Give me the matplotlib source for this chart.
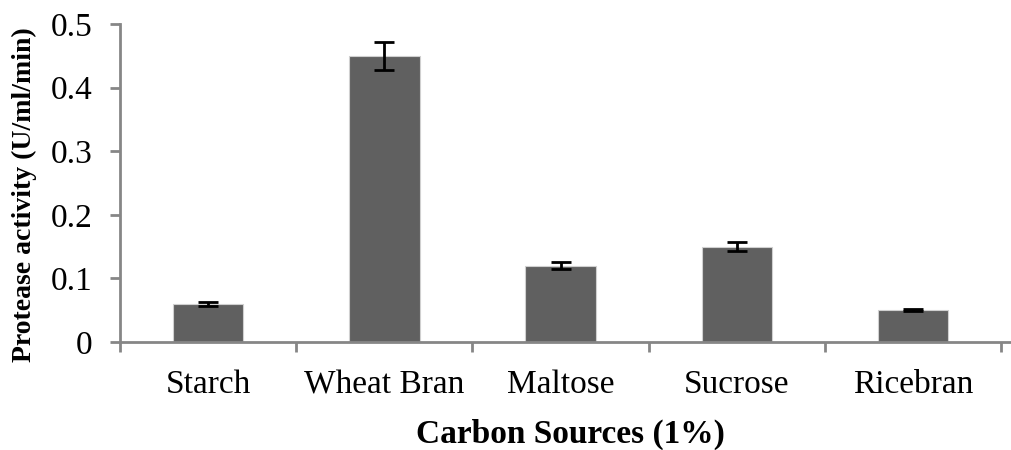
import numpy as np
import matplotlib.pyplot as plt

categories = ['Starch', 'Wheat Bran', 'Maltose', 'Sucrose', 'Ricebran']
activity = [0.06, 0.45, 0.12, 0.15, 0.05]
errors = [0.003, 0.022, 0.006, 0.007, 0.002]


def main():
    plt.rcParams['font.family'] = ['Liberation Serif', 'DejaVu Serif']

    fig = plt.figure(figsize=(10.11, 4.5), dpi=100)
    ax = fig.add_axes([120 / 1011, 108 / 450, 890 / 1011, 318 / 450])

    x = np.arange(len(categories))
    ax.bar(x, activity, width=0.4, color='#606060', edgecolor='#d0d0d0',
           linewidth=0.8, zorder=2)
    ax.errorbar(x, activity, yerr=errors, fmt='none', ecolor='black',
                elinewidth=2, capsize=7, capthick=2, zorder=3)

    ax.set_xlim(-0.5, len(categories) - 0.45)
    ax.set_ylim(0, 0.5)
    ax.set_yticks([0, 0.1, 0.2, 0.3, 0.4, 0.5])
    ax.set_yticklabels(['0', '0.1', '0.2', '0.3', '0.4', '0.5'])

    ax.set_xticks(x)
    ax.set_xticklabels(categories)
    ax.set_xticks(np.arange(len(categories) + 1) - 0.5, minor=True)
    ax.tick_params(axis='x', which='major', length=0, pad=20, labelsize=24)
    ax.tick_params(axis='x', which='minor', length=7, width=2, color='#868686')
    ax.tick_params(axis='y', length=7, width=2, color='#868686', labelsize=24, pad=13)

    for side in ['top', 'right']:
        ax.spines[side].set_visible(False)
    for side in ['left', 'bottom']:
        ax.spines[side].set_color('#868686')
        ax.spines[side].set_linewidth(2)

    ax.set_ylabel('Protease activity (U/ml/min)', fontsize=20, fontweight='bold')
    ax.yaxis.set_label_coords(-0.093, 0.465)
    ax.set_xlabel('Carbon Sources (1%)', fontsize=24, fontweight='bold')
    ax.xaxis.set_label_coords(0.506, -0.241)

    fig.savefig('out.png', dpi=100)


if __name__ == "__main__":
    main()
